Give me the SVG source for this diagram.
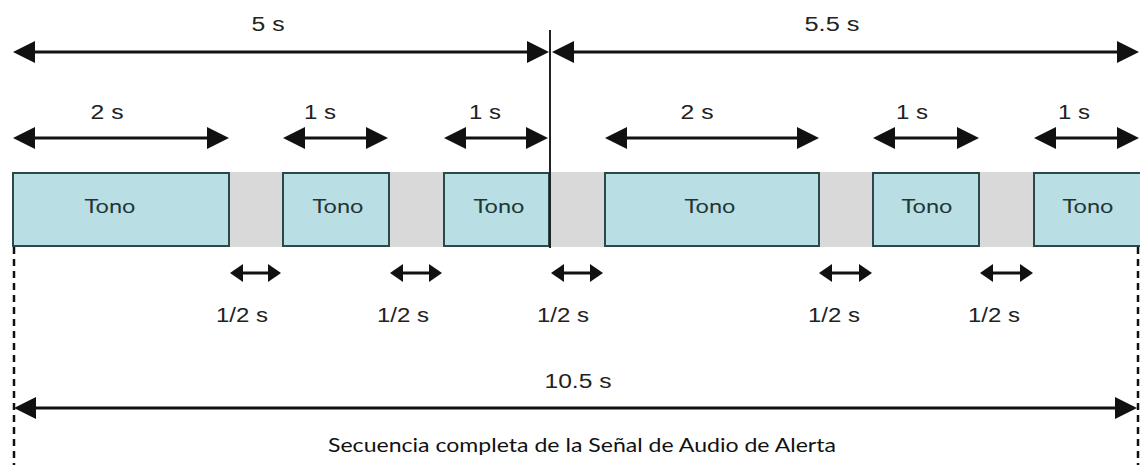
<svg xmlns="http://www.w3.org/2000/svg" width="1140" height="465" viewBox="0 0 1140 465">
<style>
.bg{fill:#ffffff}
.band{fill:#d9d9d9}
.tone{fill:#b9dee3;stroke:#2d4848;stroke-width:2}
.tt{font-family:Lato,"Open Sans","Liberation Sans",sans-serif;font-size:20px;fill:#1f3636;text-anchor:middle}
.lbl{font-family:"Liberation Sans",Arial,sans-serif;font-size:20px;fill:#222;text-anchor:middle}
.cap{font-family:Lato,"Open Sans","Liberation Sans",sans-serif;font-size:19px;fill:#111;text-anchor:middle}
.big{stroke:#111;stroke-width:3;fill:none;marker-start:url(#ah);marker-end:url(#ah)}
.small{stroke:#111;stroke-width:3;fill:none;marker-start:url(#as);marker-end:url(#as)}
.dash{stroke:#111;stroke-width:2.5;stroke-dasharray:7 5;fill:none}
.div{stroke:#222;stroke-width:2;fill:none}
</style>
<defs>
<marker id="ah" markerUnits="userSpaceOnUse" markerWidth="22" markerHeight="22" refX="1" refY="11" orient="auto-start-reverse" viewBox="0 0 22 22">
<path d="M0,0 L22,11 L0,22 z" fill="#111"/>
</marker>
<marker id="as" markerUnits="userSpaceOnUse" markerWidth="13" markerHeight="18" refX="1" refY="9" orient="auto-start-reverse" viewBox="0 0 13 18">
<path d="M0,0 L13,9 L0,18 z" fill="#111"/>
</marker>
</defs>
<rect class="bg" x="0" y="0" width="1140" height="465"/>
<rect class="band" x="13" y="172" width="1127" height="75"/>

<g id="tono1"><rect class="tone" x="13" y="173" width="216" height="73"/><text class="tt" x="110" y="213" textLength="51" lengthAdjust="spacingAndGlyphs">Tono</text></g>
<g id="tono2"><rect class="tone" x="283" y="173" width="106" height="73"/><text class="tt" x="338" y="213" textLength="51" lengthAdjust="spacingAndGlyphs">Tono</text></g>
<g id="tono3"><rect class="tone" x="444" y="173" width="105" height="73"/><text class="tt" x="499" y="213" textLength="51" lengthAdjust="spacingAndGlyphs">Tono</text></g>
<g id="tono4"><rect class="tone" x="605" y="173" width="214" height="73"/><text class="tt" x="710" y="213" textLength="51" lengthAdjust="spacingAndGlyphs">Tono</text></g>
<g id="tono5"><rect class="tone" x="873" y="173" width="106" height="73"/><text class="tt" x="927" y="213" textLength="51" lengthAdjust="spacingAndGlyphs">Tono</text></g>
<g id="tono6"><rect class="tone" x="1034" y="173" width="108" height="73"/><text class="tt" x="1088" y="213" textLength="51" lengthAdjust="spacingAndGlyphs">Tono</text></g>

<g id="connectors">
<line class="div" x1="550" y1="30" x2="550" y2="248"/>
<line class="dash" x1="14" y1="247" x2="14" y2="465"/>
<line class="dash" x1="1138" y1="247" x2="1138" y2="465"/>
<line class="big" x1="34" y1="52" x2="528" y2="52"/>
<line class="big" x1="573" y1="52" x2="1118" y2="52"/>
<line class="big" x1="34" y1="138" x2="208" y2="138"/>
<line class="big" x1="304" y1="138" x2="367" y2="138"/>
<line class="big" x1="465" y1="138" x2="527" y2="138"/>
<line class="big" x1="626" y1="138" x2="798" y2="138"/>
<line class="big" x1="894" y1="138" x2="958" y2="138"/>
<line class="big" x1="1055" y1="138" x2="1118" y2="138"/>
<line class="small" x1="242" y1="273" x2="269" y2="273"/>
<line class="small" x1="402" y1="273" x2="430" y2="273"/>
<line class="small" x1="563" y1="273" x2="591" y2="273"/>
<line class="small" x1="831" y1="273" x2="860" y2="273"/>
<line class="small" x1="992" y1="273" x2="1021" y2="273"/>
<line class="big" x1="35" y1="408" x2="1116" y2="408"/>
</g>

<g id="labels">
<text class="lbl" x="268" y="31" textLength="33" lengthAdjust="spacingAndGlyphs">5 s</text>
<text class="lbl" x="832" y="31" textLength="55" lengthAdjust="spacingAndGlyphs">5.5 s</text>
<text class="lbl" x="107" y="119" textLength="33" lengthAdjust="spacingAndGlyphs">2 s</text>
<text class="lbl" x="320" y="119" textLength="32" lengthAdjust="spacingAndGlyphs">1 s</text>
<text class="lbl" x="485" y="119" textLength="32" lengthAdjust="spacingAndGlyphs">1 s</text>
<text class="lbl" x="697" y="119" textLength="33" lengthAdjust="spacingAndGlyphs">2 s</text>
<text class="lbl" x="912" y="119" textLength="32" lengthAdjust="spacingAndGlyphs">1 s</text>
<text class="lbl" x="1074" y="119" textLength="32" lengthAdjust="spacingAndGlyphs">1 s</text>
<text class="lbl" x="242" y="322" textLength="52" lengthAdjust="spacingAndGlyphs">1/2 s</text>
<text class="lbl" x="403" y="322" textLength="52" lengthAdjust="spacingAndGlyphs">1/2 s</text>
<text class="lbl" x="563" y="322" textLength="52" lengthAdjust="spacingAndGlyphs">1/2 s</text>
<text class="lbl" x="834" y="322" textLength="52" lengthAdjust="spacingAndGlyphs">1/2 s</text>
<text class="lbl" x="994" y="322" textLength="52" lengthAdjust="spacingAndGlyphs">1/2 s</text>
<text class="lbl" x="578" y="388" textLength="67" lengthAdjust="spacingAndGlyphs">10.5 s</text>
<text class="cap" x="582" y="452" textLength="508" lengthAdjust="spacingAndGlyphs">Secuencia completa de la Señal de Audio de Alerta</text>
</g>
</svg>
